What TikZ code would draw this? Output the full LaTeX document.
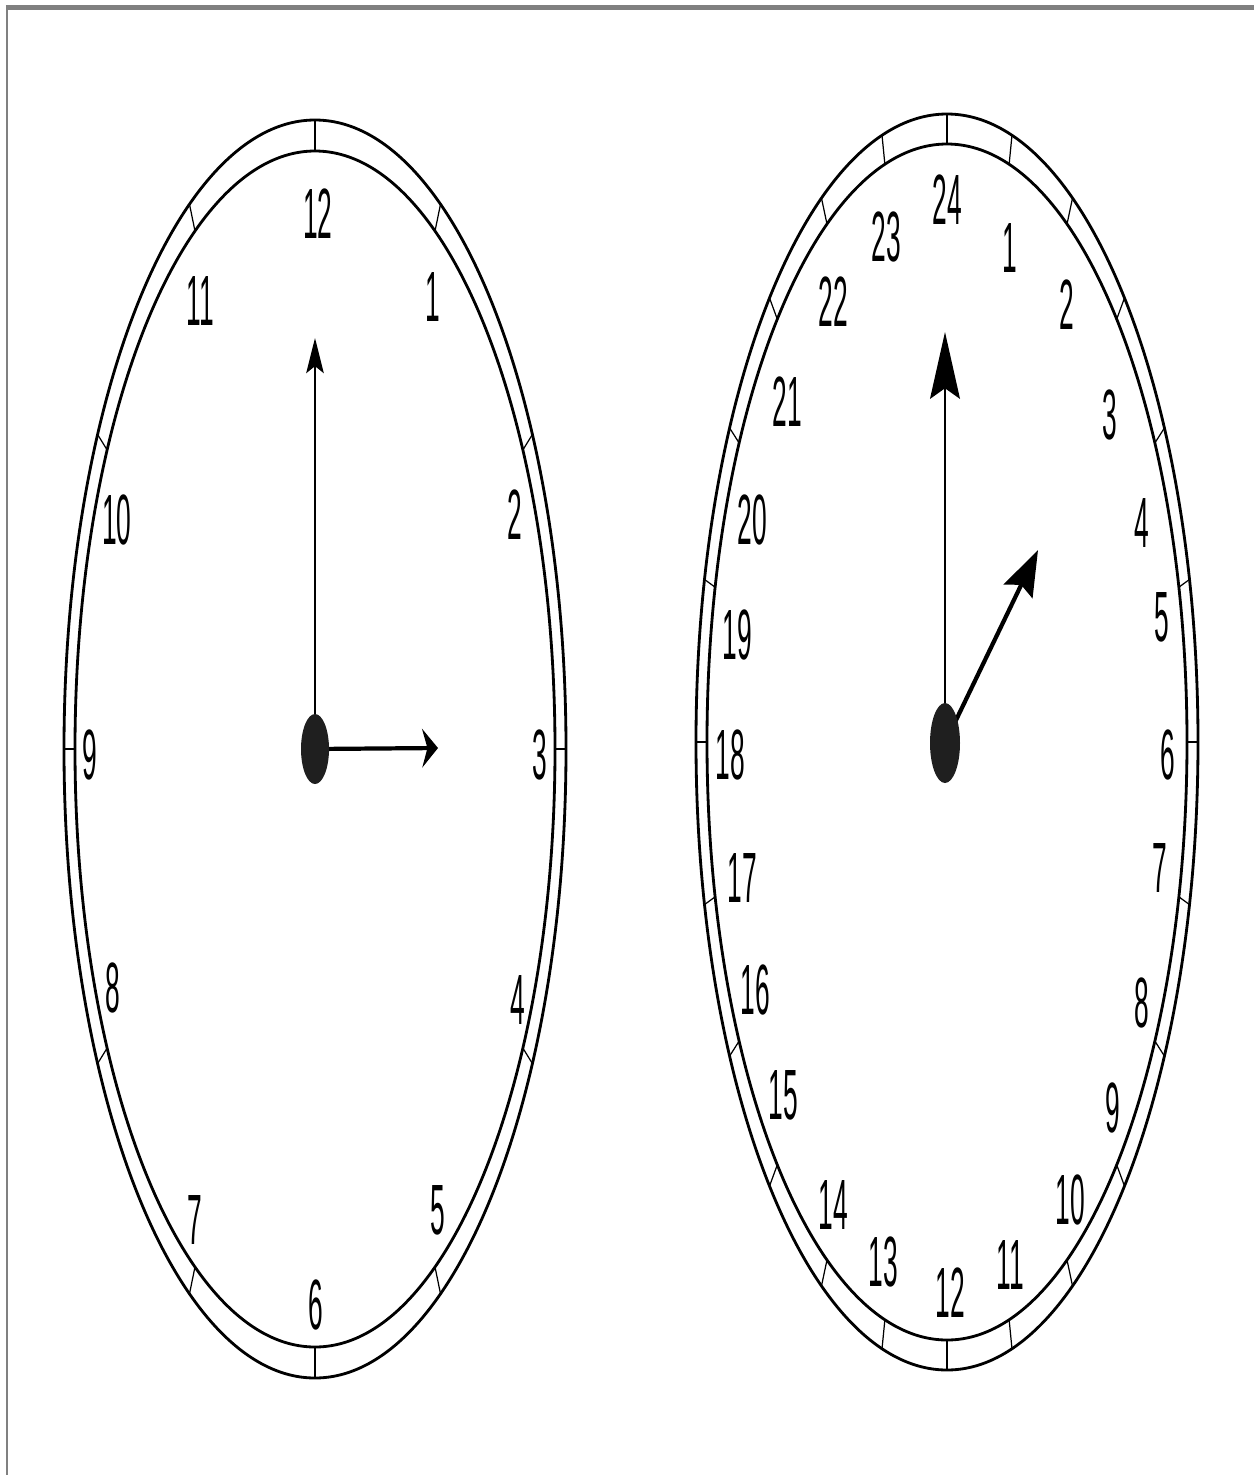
\documentclass[tikz,border=0pt]{standalone}
\usepackage{fontspec}
\setsansfont{Liberation Sans}
\usetikzlibrary{arrows.meta}

\newcommand{\clknum}[1]{\scalebox{1}[2.7]{#1}}

\begin{document}
\begin{tikzpicture}[x=0.01cm, y=-0.01cm,
    ring/.style={line width=0.8pt},
    tick/.style={line width=0.35pt},
    numlabel/.style={font=\sffamily\fontsize{7.5}{8}\selectfont, inner sep=0pt},
    hub/.style={fill=black!88},
    minhand/.style={line width=0.55pt},
    hourhand/.style={line width=1.2pt},
    frame/.style={draw=black!50}
]
\useasboundingbox (0,0) rectangle (1254,1475);
\draw[frame, line width=1.4pt] (6,7.5) -- (1254,7.5);
\draw[frame, line width=0.8pt] (7,5) -- (7,1475);

% 12-hour clock
\coordinate (lc) at (315,749);
\draw[ring] (lc) ellipse [x radius=251, y radius=629];
\draw[ring] (lc) ellipse [x radius=240, y radius=598];
\foreach \a in {0,30,...,330}
  \draw[tick] ([shift={({240*sin(\a)},{-598*cos(\a)})}]lc) -- ([shift={({251*sin(\a)},{-629*cos(\a)})}]lc);
\foreach \n/\x/\y in {12/318/214, 1/433/297, 2/515/515, 3/540/755, 4/518/1000, 5/438/1210,
                      6/316/1305, 7/195/1220, 8/113/988, 9/90/755, 10/117/520, 11/200/301}
  \node[numlabel] (l\n) at (\x,\y) {\clknum{\n}};

\coordinate (lmin) at (315,338);
\coordinate (lhour) at (438,748);
\draw[minhand, -{Stealth[length=10pt, width=5pt, inset=2pt]}] (lc) -- (lmin);
\draw[hourhand, -{Stealth[length=4.5pt, width=11pt, inset=1.5pt]}] (lc) -- (lhour);
\fill[hub] (lc) ellipse [x radius=14, y radius=35];

% 24-hour clock
\coordinate (rc) at (947,742);
\coordinate (rhub) at (945,743);
\draw[ring] (rc) ellipse [x radius=251, y radius=628];
\draw[ring] (rc) ellipse [x radius=240, y radius=598];
\foreach \a in {0,15,...,345}
  \draw[tick] ([shift={({240*sin(\a)},{-598*cos(\a)})}]rc) -- ([shift={({251*sin(\a)},{-628*cos(\a)})}]rc);
\foreach \n/\x/\y in {24/947/200, 1/1010/248, 2/1067/305, 3/1110/415, 4/1142/523, 5/1162/617,
                      6/1168/755, 7/1160/868, 8/1142/1003, 9/1113/1108, 10/1070/1200, 11/1010/1265,
                      12/950/1293, 13/883/1262, 14/833/1205, 15/783/1095, 16/755/990, 17/742/878,
                      18/730/755, 19/737/635, 20/752/520, 21/787/402, 22/833/302, 23/886/237}
  \node[numlabel] (r\n) at (\x,\y) {\clknum{\n}};

\coordinate (rmin) at (945,332);
\coordinate (rhour) at (1038,550);
\draw[minhand, -{Stealth[length=19pt, width=8.5pt, inset=3pt]}] (rhub) -- (rmin);
\draw[hourhand, -{Stealth[length=13pt, width=9pt, inset=2pt]}] (rhub) -- (rhour);
\fill[hub] (rhub) ellipse [x radius=15, y radius=40];
\end{tikzpicture}
\end{document}
